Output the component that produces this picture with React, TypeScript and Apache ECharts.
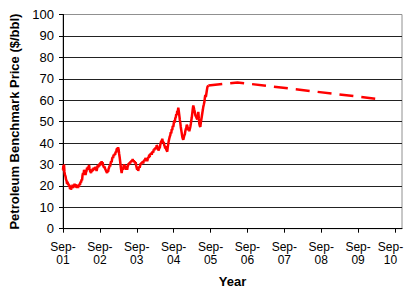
import React, { useEffect, useRef } from "react";
import * as echarts from "echarts";

// years since Sep-2001
const histYears = [
  0.0, 0.01, 0.02, 0.027, 0.04, 0.054, 0.068, 0.082, 0.095, 0.11, 0.123, 0.136, 0.15, 0.163, 0.177,
  0.19, 0.204, 0.217, 0.231, 0.245, 0.259, 0.272, 0.286, 0.299, 0.313, 0.326, 0.34, 0.353, 0.367,
  0.38, 0.394, 0.408, 0.421, 0.435, 0.448, 0.462, 0.475, 0.489, 0.503, 0.516, 0.53, 0.543, 0.557,
  0.571, 0.584, 0.598, 0.611, 0.625, 0.639, 0.652, 0.666, 0.679, 0.693, 0.706, 0.72, 0.734, 0.747,
  0.761, 0.774, 0.788, 0.801, 0.815, 0.829, 0.842, 0.856, 0.869, 0.883, 0.897, 0.91, 0.924, 0.937,
  0.951, 0.965, 0.978, 0.992, 1.005, 1.019, 1.033, 1.046, 1.06, 1.073, 1.087, 1.101, 1.114, 1.128,
  1.141, 1.155, 1.168, 1.182, 1.195, 1.209, 1.223, 1.236, 1.25, 1.264, 1.277, 1.291, 1.304, 1.318,
  1.331, 1.345, 1.359, 1.372, 1.386, 1.4, 1.413, 1.427, 1.44, 1.454, 1.467, 1.481, 1.494, 1.508,
  1.522, 1.535, 1.549, 1.562, 1.576, 1.59, 1.603, 1.617, 1.63, 1.644, 1.658, 1.671, 1.685, 1.699,
  1.712, 1.726, 1.739, 1.753, 1.766, 1.78, 1.793, 1.807, 1.82, 1.834, 1.848, 1.861, 1.875, 1.888,
  1.902, 1.916, 1.929, 1.943, 1.956, 1.97, 1.983, 1.997, 2.011, 2.024, 2.038, 2.051, 2.065, 2.079,
  2.092, 2.106, 2.119, 2.133, 2.147, 2.16, 2.174, 2.187, 2.201, 2.215, 2.228, 2.242, 2.255, 2.269,
  2.282, 2.296, 2.31, 2.323, 2.337, 2.35, 2.364, 2.378, 2.391, 2.405, 2.418, 2.432, 2.446, 2.459,
  2.472, 2.486, 2.5, 2.513, 2.527, 2.54, 2.554, 2.568, 2.581, 2.595, 2.608, 2.622, 2.635, 2.649,
  2.663, 2.676, 2.69, 2.703, 2.717, 2.73, 2.744, 2.758, 2.771, 2.785, 2.798, 2.812, 2.826, 2.839,
  2.853, 2.867, 2.88, 2.894, 2.907, 2.921, 2.935, 2.948, 2.962, 2.975, 2.989, 3.002, 3.016, 3.03,
  3.043, 3.057, 3.07, 3.084, 3.097, 3.111, 3.125, 3.138, 3.152, 3.166, 3.179, 3.193, 3.206, 3.22,
  3.233, 3.247, 3.261, 3.274, 3.288, 3.302, 3.315, 3.329, 3.342, 3.356, 3.369, 3.383, 3.397, 3.41,
  3.424, 3.437, 3.451, 3.465, 3.478, 3.492, 3.505, 3.519, 3.532, 3.546, 3.559, 3.573, 3.587, 3.6,
  3.614, 3.627, 3.641, 3.655, 3.668, 3.682, 3.695, 3.709, 3.723, 3.736, 3.75, 3.764, 3.777, 3.791,
  3.804, 3.818, 3.831, 3.845, 3.858, 3.872, 3.886, 3.899, 3.913, 3.926, 3.94,
];
const histPrices = [
  27.5, 29.5, 27, 30, 26.5, 25, 24.5, 23, 22.5, 21, 22, 20.5, 21, 19.5, 20.5,
  18.5, 20, 18.2, 19.5, 18.8, 20.5, 19, 20.5, 19.5, 21, 19.8, 20.8, 19.2, 20.5,
  19, 20.2, 19, 20.5, 19.5, 21, 20.5, 22, 21.5, 23, 22.5, 25, 26, 25,
  27.5, 26, 27, 25, 26.5, 27, 28.5, 27.5, 29, 28, 29.8, 28, 27, 26.5,
  26, 27.5, 26.5, 28, 27, 28.5, 27.5, 28.5, 27.5, 29, 28, 27, 28, 29.5,
  28.5, 30, 29, 30.5, 29.5, 31, 30, 31.5, 30.5, 31, 29.5, 29, 28.5, 29,
  28, 27.5, 27, 26.5, 26, 27, 26.5, 28, 28.5, 29.5, 29, 30.5, 31.5, 31,
  32.5, 33.5, 33, 34.5, 34, 35, 34.5, 36, 35.5, 37, 37.5, 36.5, 38, 37,
  35, 33.5, 31.5, 29.5, 27.5, 26, 27.5, 28.5, 27.5, 29.5, 30, 28.5, 29.5, 28.5,
  27.5, 28.5, 27.5, 29, 29.5, 30.5, 30, 31, 30.5, 31.5, 31, 32, 31.5, 32.5,
  31.5, 32, 31, 31.5, 30.5, 31, 29.5, 28.5, 27.5, 28.5, 27, 28, 29, 28.5,
  29.5, 30.5, 30, 31, 30.5, 31.5, 30.5, 31.5, 32, 31.5, 32.5, 33, 32, 33,
  31.5, 32.5, 33.5, 33, 34.5, 33.5, 35, 34.5, 35.5, 34.5, 35.5, 36, 35.5, 37,
  36.5, 37.5, 37, 38, 37.5, 39, 38.5, 37.5, 37, 36.5, 38, 37.5, 39, 40,
  41, 40.5, 42, 41, 40, 40.5, 39, 38.5, 37.5, 38.5, 37, 36.5, 36, 38,
  39.5, 41, 42, 43, 43.5, 45, 44.5, 46.5, 46, 48, 47.5, 49, 50.5, 49.5,
  51.5, 52, 53.5, 53, 55, 54.5, 56.5, 55, 53, 51, 49.5, 47.5, 46, 44.5,
  43, 42, 41.5, 42.5, 43.5, 44, 45.5, 46.5, 47, 48.5, 48, 47, 46, 46.5,
  45.5, 46.5, 47.5, 49, 50.5, 52, 54, 56, 57.5, 56.5, 55.5, 54.5, 53, 52.5,
  52, 51.5, 51, 53, 54.5, 51.5, 49, 48, 47.5, 49.5, 51, 52.5, 54, 55.5,
  57, 58, 59, 61, 62.5, 61.5, 63, 64.5, 66, 66.5, 66.8,
];
const projYears = [3.94, 4.73, 8.56];
const projPrices = [66.8, 68.3, 60.5];
const xTickValues = [0, 1, 2, 3, 4, 5, 6, 7, 8, 9];
const xTickLabels = ["01", "02", "03", "04", "05", "06", "07", "08", "09", "10"];

const FONT = "'Liberation Sans', Arial, sans-serif";

export default function App() {
  const ref = useRef<HTMLDivElement>(null);
  useEffect(() => {
    if (!ref.current) return;
    const chart = echarts.init(ref.current, undefined, { renderer: "svg" });
    chart.setOption({
      animation: false,
      backgroundColor: "#fff",
      grid: {
        left: 63,
        right: 2,
        top: 14.5,
        bottom: 59.3,
        containLabel: false,
        outerBoundsMode: "none",
        show: true,
        borderColor: "#909090",
        borderWidth: 1,
      },
      xAxis: {
        type: "value",
        min: 0,
        max: 9.19,
        interval: 1,
        name: "Year",
        nameLocation: "middle",
        nameGap: 46,
        nameTextStyle: { fontFamily: FONT, fontSize: 13, lineHeight: 13, fontWeight: "bold", color: "#000" },
        axisLine: { show: true, lineStyle: { color: "#000", width: 1 } },
        axisTick: { show: true, length: 4, lineStyle: { color: "#000" }, customValues: xTickValues },
        axisLabel: {
          customValues: xTickValues,
          margin: 12,
          fontFamily: FONT,
          fontSize: 12,
          lineHeight: 13,
          color: "#000",
          rich: {
            e: {
              fontFamily: FONT,
              fontSize: 12,
              lineHeight: 13,
              color: "#000",
              padding: [0, 9, 0, 0],
            },
          },
          formatter: (v: number) => {
            const i = Math.round(v);
            const lab = xTickLabels[i] ?? "";
            if (i === xTickLabels.length - 1) return "{e|Sep-}\n{e|" + lab + "}";
            return "Sep-\n" + lab;
          },
        },
        splitLine: { show: false },
      },
      yAxis: {
        type: "value",
        min: 0,
        max: 100,
        interval: 10,
        name: "Petroleum Benchmark Price ($/bbl)",
        nameLocation: "middle",
        nameGap: 39,
        nameTextStyle: { fontFamily: FONT, fontSize: 13, fontWeight: "bold", color: "#000" },
        axisLine: { show: true, lineStyle: { color: "#000", width: 1 } },
        axisTick: { show: true, length: 4, lineStyle: { color: "#000" } },
        axisLabel: { margin: 9, fontFamily: FONT, fontSize: 13, color: "#000" },
        splitLine: { show: true, showMinLine: false, showMaxLine: false, lineStyle: { color: "#222", width: 1 } },
      },
      series: [
        {
          type: "line",
          data: histYears.map((x, i) => [x, histPrices[i]]),
          showSymbol: false,
          symbol: "none",
          lineStyle: { color: "#ff0000", width: 2.5 },
        },
        {
          type: "line",
          data: projYears.map((x, i) => [x, projPrices[i]]),
          showSymbol: false,
          symbol: "none",
          lineStyle: { color: "#ff0000", width: 2.5, type: [14, 8] },
        },
      ],
    });
    return () => chart.dispose();
  }, []);
  return (
    <div
      ref={ref}
      style={{ position: "fixed", left: 0, top: 0, width: 404, height: 288, background: "#fff" }}
    />
  );
}
